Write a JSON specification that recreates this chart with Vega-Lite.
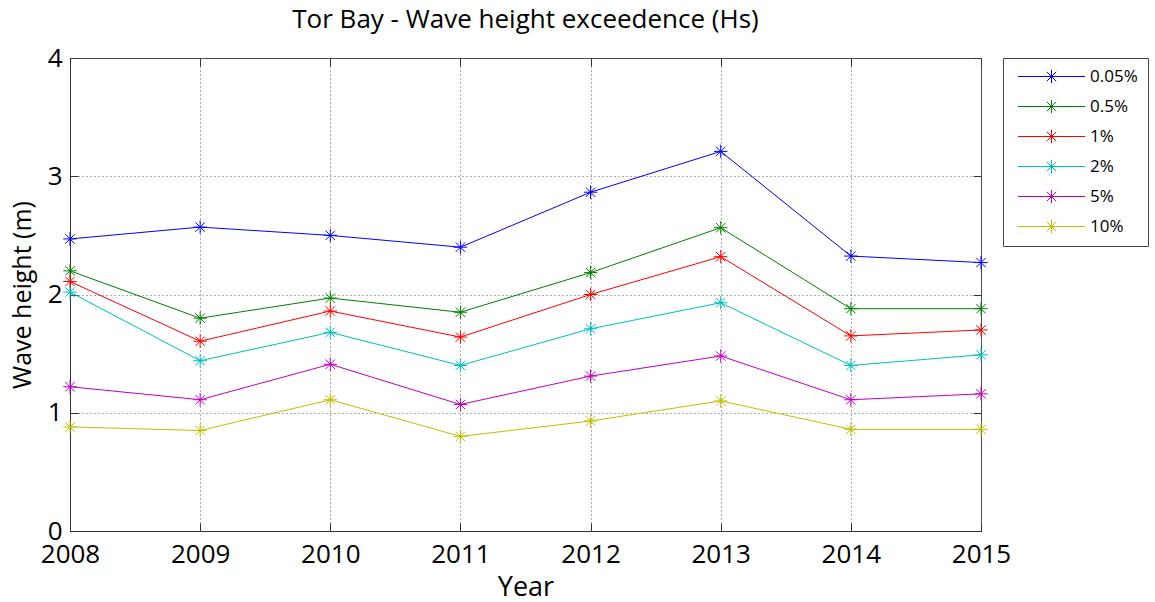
{
  "$schema": "https://vega.github.io/schema/vega-lite/v6.json",
  "width": 911,
  "height": 473,
  "autosize": {"type": "none"},
  "padding": {"left": 70, "top": 58, "right": 174, "bottom": 71},
  "background": "white",
  "title": {"text": "Tor Bay - Wave height exceedence (Hs)", "fontSize": 26, "font": "Open Sans", "fontWeight": "normal", "anchor": "middle", "offset": 12, "color": "#000"},
  "config": {
    "font": "Open Sans",
    "view": {"stroke": "#555", "strokeWidth": 1},
    "axis": {
      "labelFont": "Open Sans", "labelFontSize": 26, "labelColor": "#000",
      "titleFont": "Open Sans", "titleFontSize": 26, "titleFontWeight": "normal", "titleColor": "#000",
      "domainColor": "#333", "tickColor": "#333", "tickSize": -8,
      "gridColor": "#333", "gridDash": [1, 3], "gridOpacity": 0.8
    }
  },
  "data": {"values": [
    {"year": 2008, "series": "0.05%", "value": 2.47},
    {"year": 2009, "series": "0.05%", "value": 2.57},
    {"year": 2010, "series": "0.05%", "value": 2.50},
    {"year": 2011, "series": "0.05%", "value": 2.40},
    {"year": 2012, "series": "0.05%", "value": 2.865},
    {"year": 2013, "series": "0.05%", "value": 3.21},
    {"year": 2014, "series": "0.05%", "value": 2.325},
    {"year": 2015, "series": "0.05%", "value": 2.27},
    {"year": 2008, "series": "0.5%", "value": 2.20},
    {"year": 2009, "series": "0.5%", "value": 1.80},
    {"year": 2010, "series": "0.5%", "value": 1.97},
    {"year": 2011, "series": "0.5%", "value": 1.85},
    {"year": 2012, "series": "0.5%", "value": 2.185},
    {"year": 2013, "series": "0.5%", "value": 2.565},
    {"year": 2014, "series": "0.5%", "value": 1.88},
    {"year": 2015, "series": "0.5%", "value": 1.88},
    {"year": 2008, "series": "1%", "value": 2.11},
    {"year": 2009, "series": "1%", "value": 1.605},
    {"year": 2010, "series": "1%", "value": 1.86},
    {"year": 2011, "series": "1%", "value": 1.64},
    {"year": 2012, "series": "1%", "value": 2.00},
    {"year": 2013, "series": "1%", "value": 2.32},
    {"year": 2014, "series": "1%", "value": 1.65},
    {"year": 2015, "series": "1%", "value": 1.70},
    {"year": 2008, "series": "2%", "value": 2.02},
    {"year": 2009, "series": "2%", "value": 1.44},
    {"year": 2010, "series": "2%", "value": 1.68},
    {"year": 2011, "series": "2%", "value": 1.40},
    {"year": 2012, "series": "2%", "value": 1.71},
    {"year": 2013, "series": "2%", "value": 1.93},
    {"year": 2014, "series": "2%", "value": 1.40},
    {"year": 2015, "series": "2%", "value": 1.49},
    {"year": 2008, "series": "5%", "value": 1.22},
    {"year": 2009, "series": "5%", "value": 1.11},
    {"year": 2010, "series": "5%", "value": 1.41},
    {"year": 2011, "series": "5%", "value": 1.07},
    {"year": 2012, "series": "5%", "value": 1.31},
    {"year": 2013, "series": "5%", "value": 1.48},
    {"year": 2014, "series": "5%", "value": 1.11},
    {"year": 2015, "series": "5%", "value": 1.16},
    {"year": 2008, "series": "10%", "value": 0.88},
    {"year": 2009, "series": "10%", "value": 0.85},
    {"year": 2010, "series": "10%", "value": 1.11},
    {"year": 2011, "series": "10%", "value": 0.80},
    {"year": 2012, "series": "10%", "value": 0.93},
    {"year": 2013, "series": "10%", "value": 1.10},
    {"year": 2014, "series": "10%", "value": 0.86},
    {"year": 2015, "series": "10%", "value": 0.86}
  ]},
  "layer": [
    {
      "mark": {"type": "line", "strokeWidth": 1},
      "encoding": {
        "x": {"field": "year", "type": "quantitative", "scale": {"domain": [2008, 2015], "nice": false, "zero": false},
              "axis": {"orient": "bottom", "title": "Year", "values": [2008, 2009, 2010, 2011, 2012, 2013, 2014, 2015], "format": "d", "labelFlush": false, "labelOverlap": false, "labelPadding": 18, "titlePadding": 7, "titleFontSize": 27, "grid": true}},
        "y": {"field": "value", "type": "quantitative", "scale": {"domain": [0, 4], "nice": false},
              "axis": {"orient": "left", "title": "Wave height (m)", "values": [0, 1, 2, 3, 4], "labelPadding": 16, "titlePadding": 12, "titleFontSize": 25, "grid": true}},
        "color": {"field": "series", "type": "nominal",
                  "scale": {"domain": ["0.05%", "0.5%", "1%", "2%", "5%", "10%"], "range": ["#0000FF", "#008000", "#FF0000", "#00BFBF", "#BF00BF", "#BFBF00"]},
                  "legend": {"orient": "none", "legendX": 933, "legendY": 0, "title": null, "labelFont": "Open Sans", "labelFontSize": 17, "labelColor": "#000",
                             "symbolType": "M-5,0H5M0,-1V1M-0.7,-0.7L0.7,0.7M-0.7,0.7L0.7,-0.7", "symbolSize": 180, "symbolStrokeWidth": 1,
                             "symbolFillColor": "transparent", "strokeColor": "#444", "padding": 10, "rowPadding": 11, "labelOffset": 30, "symbolOffset": 30}}
      }
    },
    {
      "mark": {"type": "point", "shape": "M-1,0H1M0,-1V1M-0.7,-0.7L0.7,0.7M-0.7,0.7L0.7,-0.7", "size": 180, "strokeWidth": 1, "filled": false, "opacity": 1},
      "encoding": {
        "x": {"field": "year", "type": "quantitative", "axis": {"orient": "top", "title": null, "labels": false, "grid": false, "values": [2008, 2009, 2010, 2011, 2012, 2013, 2014, 2015], "domain": false}},
        "y": {"field": "value", "type": "quantitative", "axis": {"orient": "right", "title": null, "labels": false, "grid": false, "values": [0, 1, 2, 3, 4], "domain": false}},
        "color": {"field": "series", "type": "nominal"}
      }
    }
  ],
  "resolve": {"axis": {"x": "independent", "y": "independent"}}
}
